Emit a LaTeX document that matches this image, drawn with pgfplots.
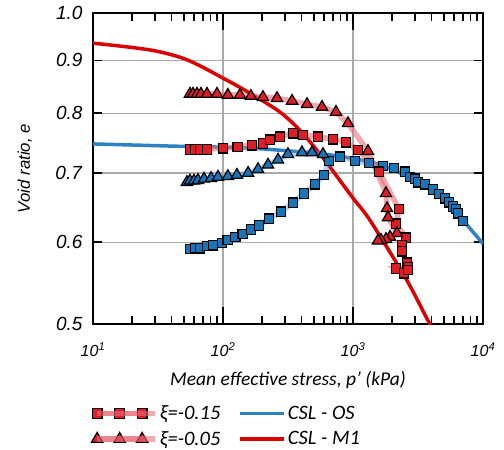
\documentclass[border=0pt]{standalone}
\usepackage{fontspec}
\setmainfont{Carlito}
\newfontfamily\arialf{Liberation Sans}
\usepackage{pgfplots}
\pgfplotsset{compat=1.18}
\definecolor{redfill}{RGB}{222,30,36}
\definecolor{bluefill}{RGB}{23,118,186}
\definecolor{oscol}{RGB}{45,130,195}
\definecolor{m1col}{RGB}{220,0,0}
\definecolor{pinkline}{RGB}{232,110,120}
\definecolor{lblue}{RGB}{90,160,215}
\definecolor{gridgray}{RGB}{170,170,170}
\pgfplotsset{
  redsq/.style={draw=pinkline, draw opacity=0.6, line width=5.5bp,
    mark=square*, mark size=4.8bp,
    mark options={fill=redfill, draw=black, line width=1.2bp, opacity=1, draw opacity=1}},
  redtri/.style={draw=pinkline, draw opacity=0.6, line width=5.5bp,
    mark=triangle*, mark size=6.5bp,
    mark options={fill=redfill, draw=black, line width=1.2bp, opacity=1, draw opacity=1}},
  bluesq/.style={draw=lblue, draw opacity=0.45, line width=5.5bp,
    mark=square*, mark size=4.8bp,
    mark options={fill=bluefill, draw=black, line width=1.2bp, opacity=1, draw opacity=1}},
  bluetri/.style={draw=lblue, draw opacity=0.45, line width=5.5bp,
    mark=triangle*, mark size=6.5bp,
    mark options={fill=bluefill, draw=black, line width=1.2bp, opacity=1, draw opacity=1}},
  markleg/.style={legend image code/.code={
    \draw[##1] plot coordinates {(0bp,0bp) (22.5bp,0bp) (45bp,0bp)};
    \path (0bp,0bp) -- (58bp,0bp);}},
  lineleg/.style={legend image code/.code={
    \draw[##1] (0bp,0bp) -- (34bp,0bp);
    \path (0bp,0bp) -- (44bp,0bp);}},
}
\begin{document}
\begin{tikzpicture}
\useasboundingbox (-93bp,-126bp) rectangle (411bp,324bp);
\begin{axis}[
  scale only axis, width=390bp, height=311bp,
  xmode=log, ymode=log,
  xmin=10, xmax=10000, ymin=0.5, ymax=1.0,
  xtick={10,100,1000,10000},
  xticklabels={\textit{10}\textsuperscript{\textit{1}},\textit{10}\textsuperscript{\textit{2}},\textit{10}\textsuperscript{\textit{3}},\textit{10}\textsuperscript{\textit{4}}},
  ytick={0.5,0.6,0.7,0.8,0.9,1.0},
  yticklabels={\textit{0.5},\textit{0.6},\textit{0.7},\textit{0.8},\textit{0.9},\textit{1.0}},
  minor y tick num=0,
  grid=major, major grid style={gridgray, line width=1.2bp},
  axis line style={line width=2.5bp},
  tick style={black, line width=1.5bp},
  tick align=inside,
  major tick length=14bp, minor tick length=8bp,
  x tick style={/pgfplots/major tick length=17bp},
  y tick style={/pgfplots/major tick length=9bp},
  xticklabel style={font=\arialf\fontsize{16bp}{18bp}\selectfont, yshift=-15bp},
  yticklabel style={font=\arialf\fontsize{19bp}{21bp}\selectfont, xshift=-7bp},
  xlabel={\textit{Mean effective stress, p' (kPa)}},
  ylabel={\textit{Void ratio, e}},
  xlabel style={font=\fontsize{19.5bp}{21bp}\selectfont, at={(axis description cs:0.5,-0.18)}, anchor=center},
  ylabel style={font=\arialf\fontsize{16.8bp}{18bp}\selectfont, at={(axis description cs:-0.175,0.5)}, anchor=center},
  legend columns=2,
  legend style={draw=none, fill=none, at={(axis description cs:-0.012,-0.25)}, anchor=north west,
    font=\fontsize{20.5bp}{22bp}\selectfont, row sep=6bp,
    /tikz/every even column/.append style={column sep=16bp}},
  legend cell align=left,
  clip=true,
]
% CSL - OS
\addplot[oscol, line width=3.5bp, smooth, forget plot] coordinates {
(10,0.747) (46.7,0.743) (161,0.740) (665,0.729) (1614,0.713) (3275,0.685) (4667,0.667) (7015,0.630) (10000,0.598)};
% CSL - M1
\addplot[m1col, line width=3.5bp, smooth, forget plot] coordinates {
(10,0.935) (27.4,0.921) (52.8,0.901) (107,0.861) (170,0.833) (274,0.802) (391,0.770) (588,0.724) (1000,0.662) (1352,0.630) (2600,0.551) (3908,0.5) (5572,0.467)};
% blue squares
\addplot[bluesq, forget plot] coordinates {
(55.7,0.591) (60.9,0.592) (66.6,0.592) (75.3,0.595) (83.8,0.596) (98.2,0.599) (109,0.603) (124,0.607) (142,0.611) (164,0.617) (189,0.623) (226,0.632) (279,0.642) (345,0.655) (420,0.669) (511,0.683) (598,0.697) (654,0.719) (794,0.726) (1036,0.719) (1327,0.716) (1702,0.711) (2067,0.708) (2512,0.702) (2743,0.694) (2998,0.691) (3162,0.686) (3578,0.683) (4124,0.675) (4592,0.668) (5103,0.662) (5475,0.656) (5875,0.650) (6196,0.646) (6422,0.640) (7015,0.629)};
% blue triangles
\addplot[bluetri, forget plot] coordinates {
(52.8,0.686) (55.7,0.688) (59.8,0.688) (64.2,0.689) (71.4,0.691) (80.9,0.692) (91.5,0.694) (109,0.695) (128,0.697) (156,0.700) (186,0.706) (222,0.713) (265,0.721) (316,0.730) (405,0.733) (484,0.733) (588,0.730)};
% red squares
\addplot[redsq, markleg] coordinates {
(55.7,0.738) (60.9,0.738) (66.6,0.738) (75.3,0.738) (100,0.740) (130,0.742) (167,0.745) (203,0.748) (230,0.754) (274,0.759) (345,0.765) (412,0.762) (538,0.759) (702,0.755) (883,0.750) (1092,0.737) (1585,0.702) (2259,0.646) (2142,0.625) (2558,0.606) (2384,0.596) (2384,0.588) (2603,0.573) (2650,0.567) (2142,0.566) (2467,0.560) (2650,0.564)};
\addlegendentry{\textit{ξ=-0.15}}
\addlegendimage{oscol, line width=3.5bp, lineleg}
\addlegendentry{\textit{CSL - OS}}
% red triangles
\addplot[redtri, markleg] coordinates {
(55.7,0.835) (58.8,0.835) (63.1,0.835) (67.7,0.835) (75.3,0.835) (89.9,0.835) (109,0.833) (135,0.833) (164,0.831) (203,0.829) (260,0.827) (340,0.822) (443,0.816) (578,0.811) (740,0.802) (915,0.782) (1304,0.735) (1794,0.669) (1827,0.647) (1860,0.634) (2179,0.612) (1928,0.607) (1794,0.604) (1641,0.603) (1556,0.602)};
\addlegendentry{\textit{ξ=-0.05}}
\addlegendimage{m1col, line width=3.5bp, lineleg}
\addlegendentry{\textit{CSL - M1}}
\end{axis}
\end{tikzpicture}
\end{document}
